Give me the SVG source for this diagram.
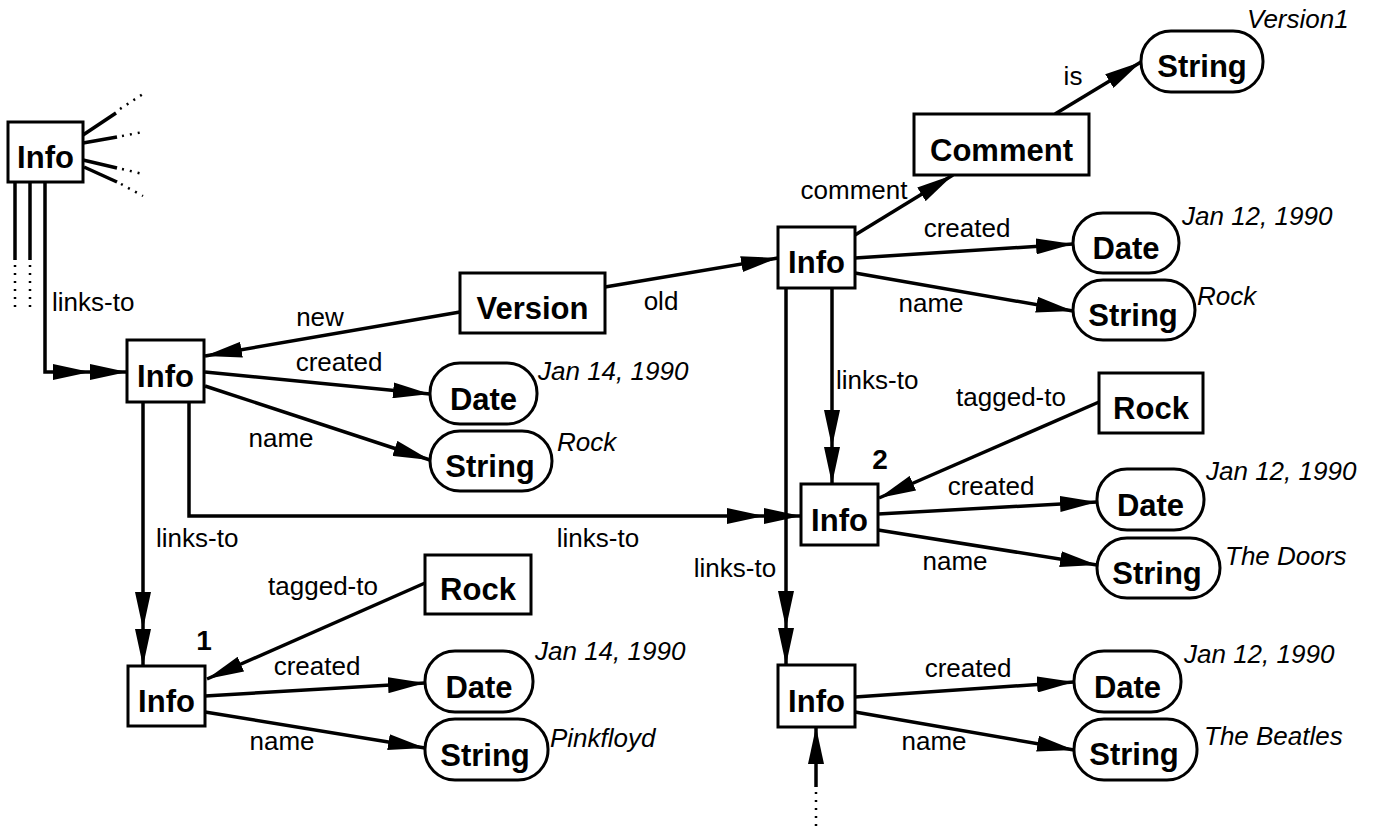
<svg xmlns="http://www.w3.org/2000/svg" width="1377" height="832" viewBox="0 0 1377 832">
<style>
.box{fill:#fff;stroke:#000;stroke-width:3}
.nl{font-family:"Liberation Sans",Arial,sans-serif;font-weight:bold;font-size:31px;text-anchor:middle;fill:#000}
.num{font-family:"Liberation Sans",Arial,sans-serif;font-weight:bold;font-size:28px;text-anchor:middle;fill:#000}
.el{font-family:"Liberation Sans",Arial,sans-serif;font-size:26px;text-anchor:middle;fill:#000}
.lt{font-family:"Liberation Sans",Arial,sans-serif;font-size:26px;fill:#000}
.val{font-family:"Liberation Sans",Arial,sans-serif;font-style:italic;font-size:26px;fill:#000}
.c{fill:none;stroke:#000;stroke-width:3.5;stroke-linecap:butt}
.a{marker-end:url(#ah)}
.d{marker-end:url(#dah)}
.dot{fill:none;stroke:#000;stroke-width:2.5;stroke-dasharray:2 6}
</style>
<defs>
<marker id="ah" markerUnits="userSpaceOnUse" viewBox="0 0 37 16" markerWidth="37" markerHeight="16" refX="37" refY="8" orient="auto">
<path d="M0,0 L37,8 L0,16 z" fill="#000"/>
</marker>
<marker id="dah" markerUnits="userSpaceOnUse" viewBox="-37 0 74 16" markerWidth="74" markerHeight="16" refX="37" refY="8" orient="auto">
<path d="M0,0 L37,8 L0,16 z M-37,0 L0,8 L-37,16 z" fill="#000"/>
</marker>
</defs>
<g id="connectors">
<!-- top-left Info stubs -->
<path class="c" d="M83,135 L116,113"/>
<path class="dot" d="M120,109 L143,94"/>
<path class="c" d="M83,143 L117,137"/>
<path class="dot" d="M122,136 L143,132"/>
<path class="c" d="M83,160 L117,168"/>
<path class="dot" d="M122,169 L143,174"/>
<path class="c" d="M84,167 L117,182"/>
<path class="dot" d="M121,184 L143,196"/>
<path class="c" d="M15,182 V260"/>
<path class="dot" d="M15,265 V312"/>
<path class="c" d="M30,182 V260"/>
<path class="dot" d="M30,265 V312"/>
<!-- links-to -->
<path class="c d" d="M45,182 V372 H127"/>
<text class="lt" x="52" y="311">links-to</text>
<path class="c d" d="M143,402 V666"/>
<text class="lt" x="156" y="547">links-to</text>
<path class="c d" d="M189,402 V516 H801"/>
<text class="el" x="598" y="547">links-to</text>
<path class="c d" d="M832,288 V484"/>
<text class="lt" x="836" y="389">links-to</text>
<path class="c d" d="M786,288 V665"/>
<text class="el" x="735" y="577">links-to</text>
<path class="c a" d="M816,787 V727"/>
<path class="dot" d="M816,792 V832"/>
<!-- version -->
<path class="c a" d="M460,312 L205,356"/>
<text class="el" x="320" y="326">new</text>
<path class="c a" d="M605,287 L778,258"/>
<text class="el" x="661" y="310">old</text>
<!-- left Info -->
<path class="c a" d="M205,372 L430,394"/>
<text class="el" x="339" y="371">created</text>
<path class="c a" d="M205,386 L430,460"/>
<text class="el" x="281" y="447">name</text>
<!-- top Info -->
<path class="c a" d="M855,235 L953,175"/>
<text class="el" x="854" y="199">comment</text>
<path class="c a" d="M1055,114 L1141,62"/>
<text class="el" x="1073" y="85">is</text>
<path class="c a" d="M855,258 L1073,244"/>
<text class="el" x="967" y="237">created</text>
<path class="c a" d="M855,273 L1073,311"/>
<text class="el" x="931" y="312">name</text>
<!-- Info 2 -->
<path class="c a" d="M1099,402 L879,498"/>
<text class="el" x="1011" y="406">tagged-to</text>
<path class="c a" d="M878,514 L1097,502"/>
<text class="el" x="991" y="495">created</text>
<path class="c a" d="M878,530 L1097,565"/>
<text class="el" x="955" y="570">name</text>
<!-- Info 1 -->
<path class="c a" d="M425,583 L207,679"/>
<text class="el" x="323" y="595">tagged-to</text>
<path class="c a" d="M205,696 L425,683"/>
<text class="el" x="317" y="675">created</text>
<path class="c a" d="M205,712 L425,748"/>
<text class="el" x="282" y="750">name</text>
<!-- bottom Info -->
<path class="c a" d="M855,697 L1074,682"/>
<text class="el" x="968" y="677">created</text>
<path class="c a" d="M855,712 L1074,750"/>
<text class="el" x="934" y="750">name</text>
</g>
<g id="info-tl"><rect class="box" x="8" y="122" width="75" height="60"/><text class="nl" x="45.5" y="168">Info</text></g>
<g id="info-main"><rect class="box" x="127" y="340" width="77" height="62"/><text class="nl" x="165.5" y="387">Info</text></g>
<g id="version"><rect class="box" x="460" y="273" width="145" height="60"/><text class="nl" x="532.5" y="319">Version</text></g>
<g id="date-l1"><rect class="box" x="430" y="363" width="107" height="61" rx="30" ry="30"/><text class="nl" x="483.5" y="410">Date</text><text class="val" x="538" y="380">Jan 14, 1990</text></g>
<g id="string-l1"><rect class="box" x="430" y="431" width="122" height="60" rx="30" ry="30"/><text class="nl" x="490" y="477">String</text><text class="val" x="557" y="451">Rock</text></g>
<g id="comment"><rect class="box" x="914" y="114" width="175" height="61"/><text class="nl" x="1001.5" y="161">Comment</text></g>
<g id="string-v1"><rect class="box" x="1141" y="31" width="122" height="61" rx="30" ry="30"/><text class="nl" x="1202" y="77">String</text><text class="val" x="1247" y="28">Version1</text></g>
<g id="info-top"><rect class="box" x="778" y="227" width="77" height="61"/><text class="nl" x="816.5" y="273">Info</text></g>
<g id="date-t"><rect class="box" x="1073" y="213" width="106" height="60" rx="30" ry="30"/><text class="nl" x="1126" y="259">Date</text><text class="val" x="1182" y="225">Jan 12, 1990</text></g>
<g id="string-t"><rect class="box" x="1073" y="280" width="122" height="60" rx="30" ry="30"/><text class="nl" x="1133" y="326">String</text><text class="val" x="1197" y="305">Rock</text></g>
<g id="rock-r"><rect class="box" x="1099" y="373" width="104" height="60"/><text class="nl" x="1151" y="419">Rock</text></g>
<g id="info-2"><rect class="box" x="801" y="484" width="77" height="61"/><text class="nl" x="839.5" y="531">Info</text><text class="num" x="880" y="469">2</text></g>
<g id="date-2"><rect class="box" x="1097" y="469" width="107" height="61" rx="30" ry="30"/><text class="nl" x="1150.5" y="516">Date</text><text class="val" x="1206" y="480">Jan 12, 1990</text></g>
<g id="string-2"><rect class="box" x="1097" y="538" width="123" height="60" rx="30" ry="30"/><text class="nl" x="1157" y="584">String</text><text class="val" x="1225" y="565">The Doors</text></g>
<g id="rock-l"><rect class="box" x="425" y="555" width="106" height="59"/><text class="nl" x="478" y="600">Rock</text></g>
<g id="info-1"><rect class="box" x="128" y="666" width="77" height="60"/><text class="nl" x="166.5" y="712">Info</text><text class="num" x="204" y="650">1</text></g>
<g id="date-1"><rect class="box" x="425" y="651" width="108" height="61" rx="30" ry="30"/><text class="nl" x="479" y="698">Date</text><text class="val" x="535" y="660">Jan 14, 1990</text></g>
<g id="string-1"><rect class="box" x="425" y="719" width="123" height="61" rx="30" ry="30"/><text class="nl" x="485" y="766">String</text><text class="val" x="550" y="747">Pinkfloyd</text></g>
<g id="info-bottom"><rect class="box" x="778" y="665" width="77" height="62"/><text class="nl" x="816.5" y="712">Info</text></g>
<g id="date-3"><rect class="box" x="1074" y="651" width="107" height="61" rx="30" ry="30"/><text class="nl" x="1127.5" y="698">Date</text><text class="val" x="1184" y="663">Jan 12, 1990</text></g>
<g id="string-3"><rect class="box" x="1074" y="719" width="123" height="61" rx="30" ry="30"/><text class="nl" x="1134" y="765">String</text><text class="val" x="1204" y="745">The Beatles</text></g>
</svg>
